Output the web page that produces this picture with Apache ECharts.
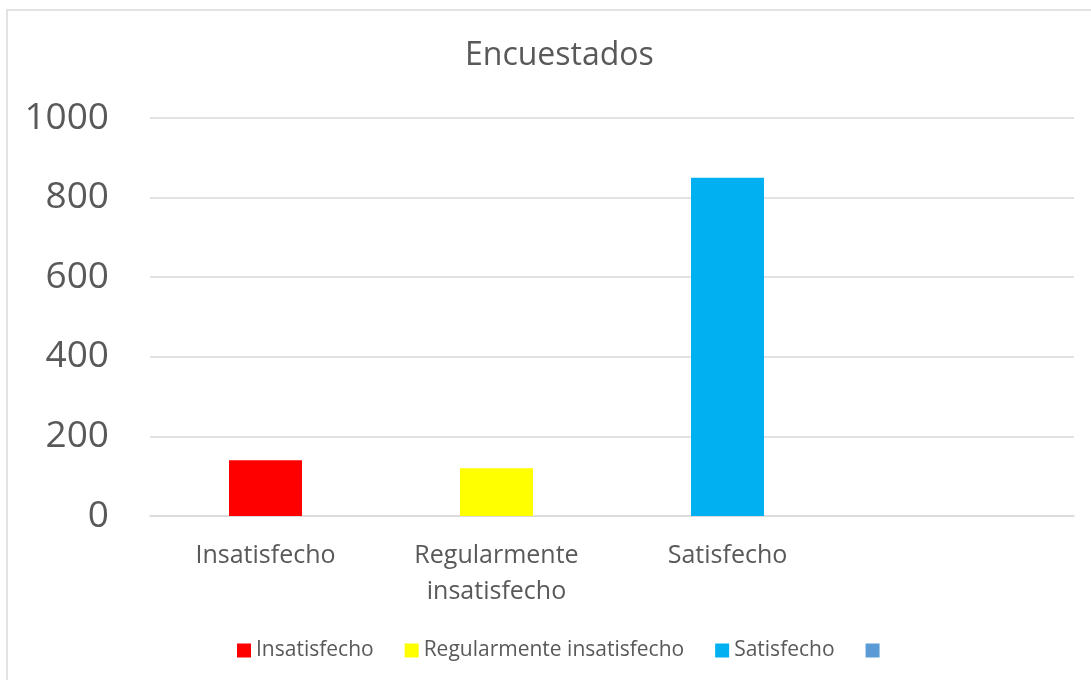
<!DOCTYPE html>
<html>
<head>
<meta charset="utf-8">
<script src="https://cdn.jsdelivr.net/npm/echarts@6/dist/echarts.min.js"></script>
<style>
  html, body { margin: 0; padding: 0; background: #fff; }
  #chart { width: 1091px; height: 680px; }
</style>
</head>
<body>
<div id="chart"></div>
<script>
// data
const categories = ['Insatisfecho', 'Regularmente\ninsatisfecho', 'Satisfecho', '']
const seriesNames = ['Insatisfecho', 'Regularmente insatisfecho', 'Satisfecho', ' ']
const values = [140, 120, 850, null]
const colors = ['#FF0000', '#FFFF00', '#00B0F0', '#5B9BD5']
const yTicks = [0, 200, 400, 600, 800, 1000]

const chart = echarts.init(document.getElementById('chart'))
const font = '"Open Sans", "Noto Sans", sans-serif'

// one series per category, stacked so each bar sits centred in its slot
const series = seriesNames.map((name, i) => ({
  name,
  type: 'bar',
  stack: 'all',
  barWidth: '31.6%',
  itemStyle: { color: colors[i] },
  data: categories.map((c, j) => (j === i && values[j] != null ? values[j] : '-'))
}))

const option = {
  backgroundColor: '#fff',
  animation: false,
  textStyle: { fontFamily: font },
  graphic: [{
    type: 'rect',
    shape: { x: 7, y: 10, width: 1100, height: 700 },
    style: { fill: 'none', stroke: '#d9d9d9', lineWidth: 1.5 },
    silent: true
  }],
  title: {
    text: 'Encuestados',
    left: 460,
    top: 35,
    textStyle: { fontFamily: font, fontSize: 32, fontWeight: 'normal', color: '#595959' }
  },
  legend: {
    bottom: 14,
    left: 232,
    icon: 'rect',
    itemWidth: 14,
    itemHeight: 14,
    itemGap: 31,
    textStyle: { fontFamily: font, fontSize: 21, color: '#595959' },
    data: seriesNames
  },
  grid: { left: 150, right: 17, top: 118, bottom: 164 },
  xAxis: {
    type: 'category',
    data: categories,
    axisTick: { show: false },
    axisLine: { lineStyle: { color: '#d9d9d9', width: 1.5 } },
    axisLabel: {
      margin: 22,
      fontFamily: font,
      fontSize: 25,
      lineHeight: 36,
      color: '#595959',
      interval: 0
    }
  },
  yAxis: {
    type: 'value',
    min: yTicks[0],
    max: yTicks[yTicks.length - 1],
    interval: 200,
    axisLine: { show: false },
    axisTick: { show: false },
    splitLine: { lineStyle: { color: '#d9d9d9', width: 1.5 } },
    axisLabel: {
      margin: 41,
      fontFamily: font,
      fontSize: 37,
      color: '#595959',
      formatter: v => String(v)
    }
  },
  series
}

chart.setOption(option)

window.addEventListener('resize', () => {
  chart.resize()
})
</script>
</body>
</html>
